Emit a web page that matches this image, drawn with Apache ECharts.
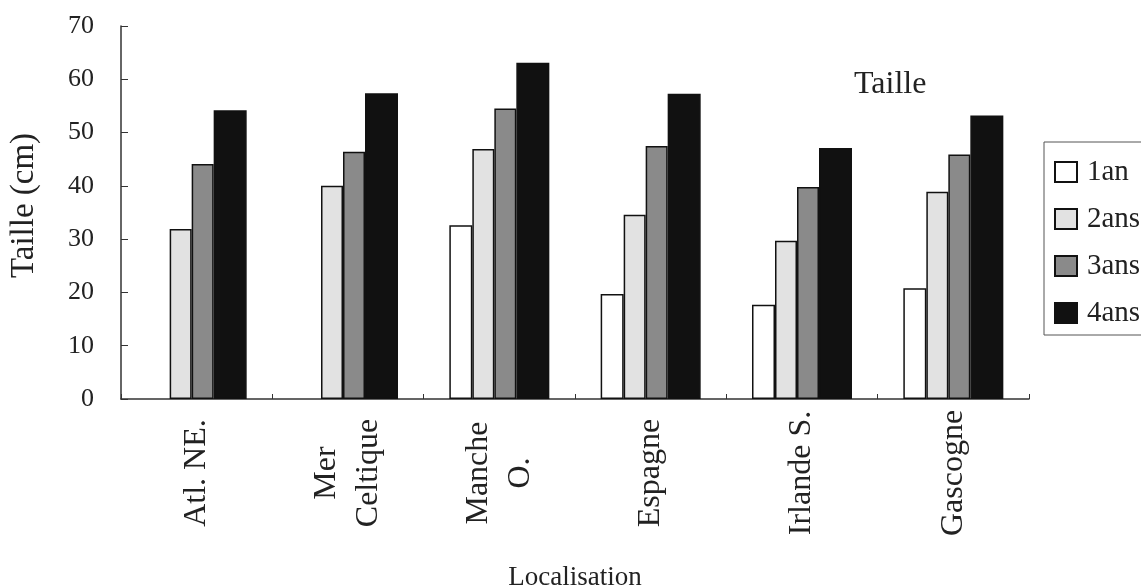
<!DOCTYPE html>
<html>
<head>
<meta charset="utf-8">
<script src="https://cdn.jsdelivr.net/npm/echarts@6/dist/echarts.min.js"></script>
<style>
html,body{margin:0;padding:0;background:#fff;}
#chart{width:1141px;height:588px;}
</style>
</head>
<body>
<div id="chart"></div>
<script>
const categories = ['Atl. NE.', 'Mer\nCeltique', 'Manche\nO.', 'Espagne', 'Irlande S.', 'Gascogne'];
const seriesNames = ['1an', '2ans', '3ans', '4ans'];
const an1 = [null, null, 32.6, 19.7, 17.7, 20.8];
const ans2 = [31.9, 40.0, 46.9, 34.6, 29.7, 38.9];
const ans3 = [44.1, 46.4, 54.5, 47.5, 39.8, 45.9];
const ans4 = [54.2, 57.4, 63.1, 57.3, 47.1, 53.2];
const yTicks = [0, 10, 20, 30, 40, 50, 60, 70];

const FONT = 'Liberation Serif';
const chart = echarts.init(document.getElementById('chart'), null, {renderer: 'canvas'});

const fills = ['#ffffff', '#e2e2e2', '#8a8a8a', '#111111'];
const widths = [23, 22, 22, 33];
const dataArr = [an1, ans2, ans3, ans4];

const series = seriesNames.map((n, i) => ({
  name: n,
  type: 'bar',
  data: dataArr[i],
  barWidth: widths[i],
  barGap: '0%',
  itemStyle: {color: fills[i], borderColor: '#111', borderWidth: 1.5},
  emphasis: {disabled: true}
}));

chart.setOption({
  backgroundColor: '#ffffff',
  animation: false,
  textStyle: {fontFamily: FONT, color: '#222'},
  title: {
    text: 'Taille',
    left: 849, top: 64,
    textStyle: {fontFamily: FONT, fontSize: 32, fontWeight: 'normal', color: '#222'}
  },
  legend: {
    orient: 'vertical',
    left: 1044, top: 142,
    padding: [15, 30, 7, 10],
    itemGap: 17,
    itemWidth: 22, itemHeight: 20,
    borderColor: '#555', borderWidth: 1,
    icon: 'rect',
    textStyle: {fontFamily: FONT, fontSize: 29, color: '#222', lineHeight: 30, padding: [0, 0, 0, 5]},
    data: seriesNames
  },
  grid: {left: 121, right: 112, top: 26, bottom: 189, containLabel: false, outerBoundsMode: 'none'},
  xAxis: {
    type: 'category',
    data: categories,
    name: 'Localisation',
    nameLocation: 'middle',
    nameGap: 165,
    nameTextStyle: {fontFamily: FONT, fontSize: 27, color: '#222'},
    axisLine: {lineStyle: {color: '#333', width: 1.5}},
    axisTick: {show: true, inside: true, length: 5, lineStyle: {color: '#333'}},
    axisLabel: {
      rotate: 90, margin: 74, interval: 0,
      align: 'center', verticalAlign: 'middle',
      fontFamily: FONT, fontSize: 32, color: '#222', lineHeight: 42
    },
    splitLine: {show: false}
  },
  yAxis: {
    type: 'value',
    min: yTicks[0], max: yTicks[yTicks.length - 1], interval: 10,
    name: 'Taille (cm)',
    nameLocation: 'middle',
    nameGap: 80,
    nameRotate: 90,
    nameTextStyle: {fontFamily: FONT, fontSize: 33, color: '#222', padding: [0, 0, 0, 14]},
    axisLine: {show: true, lineStyle: {color: '#333', width: 1.5}},
    axisTick: {show: true, inside: true, length: 7, lineStyle: {color: '#333'}},
    axisLabel: {margin: 27, fontFamily: FONT, fontSize: 26, color: '#222'},
    splitLine: {show: false}
  },
  series: series
});
</script>
</body>
</html>
